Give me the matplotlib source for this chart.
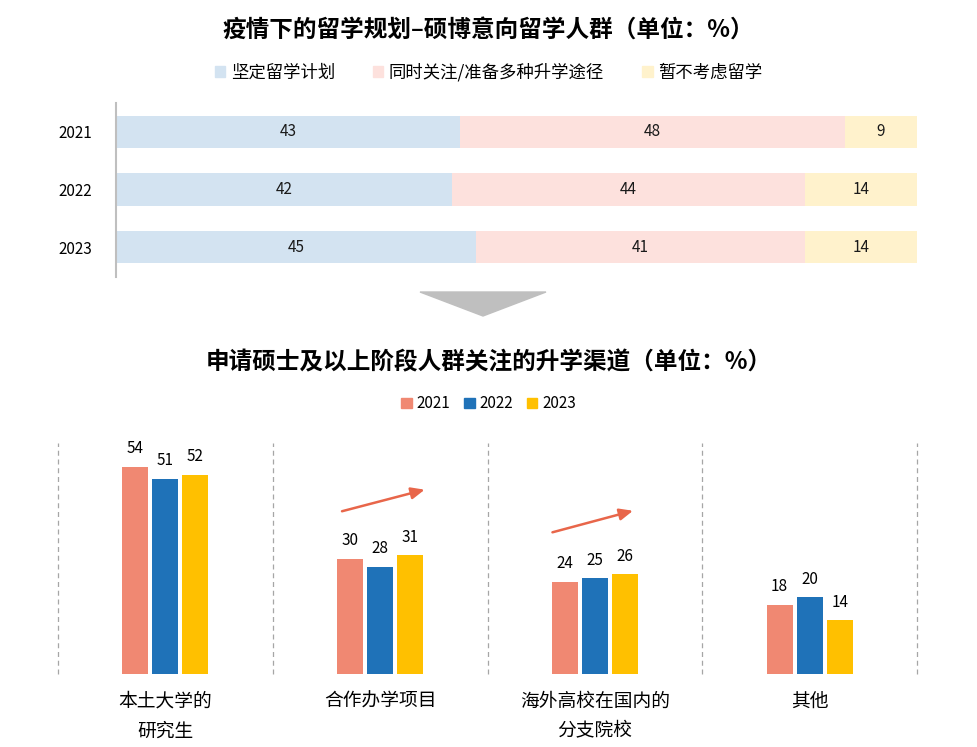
import matplotlib
matplotlib.use('Agg')
import matplotlib.pyplot as plt
from matplotlib.patches import Patch, Polygon
import numpy as np

plt.rcParams['font.family'] = ['Noto Sans CJK SC', 'DejaVu Sans']

# top chart data
years = ['2021', '2022', '2023']
plan_labels = ['坚定留学计划', '同时关注/准备多种升学途径', '暂不考虑留学']
firm = [43, 42, 45]
both = [48, 44, 41]
no_plan = [9, 14, 14]
top_colors = ['#D3E3F1', '#FDE1DD', '#FFF2CC']

# bottom chart data
channels = ['本土大学的\n研究生', '合作办学项目', '海外高校在国内的\n分支院校', '其他']
v2021 = [54, 30, 24, 18]
v2022 = [51, 28, 25, 20]
v2023 = [52, 31, 26, 14]
bot_colors = ['#F08872', '#1F72B8', '#FFC000']

fig = plt.figure(figsize=(9.77, 7.47), dpi=100)

# ---- top: stacked horizontal bars
ax1 = fig.add_axes([116/977, 1-277/747, 801/977, 174/747])
y = np.arange(len(years))
left = np.zeros(len(years))
for vals, c in zip([firm, both, no_plan], top_colors):
    ax1.barh(y, vals, left=left, height=0.56, color=c)
    for yi, l, v in zip(y, left, vals):
        ax1.text(l + v/2, yi, str(v), ha='center', va='center', fontsize=11, color='#1a1a1a')
    left = left + np.array(vals)
ax1.set_xlim(0, 100)
ax1.set_ylim(2.52, -0.5)
ax1.set_yticks(y)
ax1.set_yticklabels(years, fontsize=11)
ax1.tick_params(axis='y', length=0, pad=17)
ax1.set_xticks([])
for s in ['top', 'right', 'bottom']:
    ax1.spines[s].set_visible(False)
ax1.spines['left'].set_color('#BFBFBF')
ax1.spines['left'].set_linewidth(1.5)

fig.text(0.5, 1-30/747, '疫情下的留学规划–硕博意向留学人群（单位：%）', ha='center', va='center',
         fontsize=17, fontweight='bold')
h1 = [Patch(color=c) for c in top_colors]
fig.legend(h1, plan_labels, loc='center', bbox_to_anchor=(0.5, 1-72/747), ncol=3, frameon=False,
           fontsize=12.5, handlelength=0.6, handleheight=0.6, handletextpad=0.3, columnspacing=2.2)

# gray down triangle between the charts
fig.patches.append(Polygon([[420/977, 1-292/747], [546/977, 1-292/747], [483/977, 1-316/747]],
                           closed=True, transform=fig.transFigure, color='#BFBFBF', zorder=0))

# ---- bottom: grouped bars
ax2 = fig.add_axes([58/977, 1-674/747, 859/977, 231/747])
x = np.arange(len(channels))
w = 0.121
step = 0.14
for i, (vals, c) in enumerate(zip([v2021, v2022, v2023], bot_colors)):
    bars = ax2.bar(x + (i-1)*step, vals, width=w, color=c, label=years[i])
    for b, v in zip(bars, vals):
        ax2.annotate(str(v), (b.get_x() + b.get_width()/2, v), xytext=(0, 7), textcoords='offset points',
                     ha='center', va='bottom', fontsize=11)
for xs in np.arange(-0.5, len(channels), 1.0):
    ax2.axvline(xs, color='#A6A6A6', linestyle=(0, (4, 3)), linewidth=0.9, clip_on=False)
ax2.set_xlim(-0.5, 3.5)
ax2.set_ylim(0, 60.3)
ax2.set_yticks([])
ax2.set_xticks(x)
ax2.set_xticklabels(channels, fontsize=13.5, linespacing=1.55)
ax2.tick_params(axis='x', length=0, pad=12)
for s in ax2.spines.values():
    s.set_visible(False)

# trend arrows
for (x0, y0), (x1, y1) in [((0.81, 42.3), (1.22, 48.3)), ((1.79, 36.8), (2.19, 42.8))]:
    ax2.annotate('', xy=(x1, y1), xytext=(x0, y0),
                 arrowprops=dict(arrowstyle='-|>,head_length=0.8,head_width=0.35', color='#E8664A', lw=1.8))

fig.text(0.5, 1-362/747, '申请硕士及以上阶段人群关注的升学渠道（单位：%）', ha='center', va='center',
         fontsize=17, fontweight='bold')
h2 = [Patch(color=c) for c in bot_colors]
fig.legend(h2, years, loc='center', bbox_to_anchor=(0.5, 1-404/747), ncol=3, frameon=False,
           fontsize=11, handlelength=0.7, handleheight=0.7, handletextpad=0.3, columnspacing=0.9)

fig.savefig('out.png', dpi=100, facecolor='white')
